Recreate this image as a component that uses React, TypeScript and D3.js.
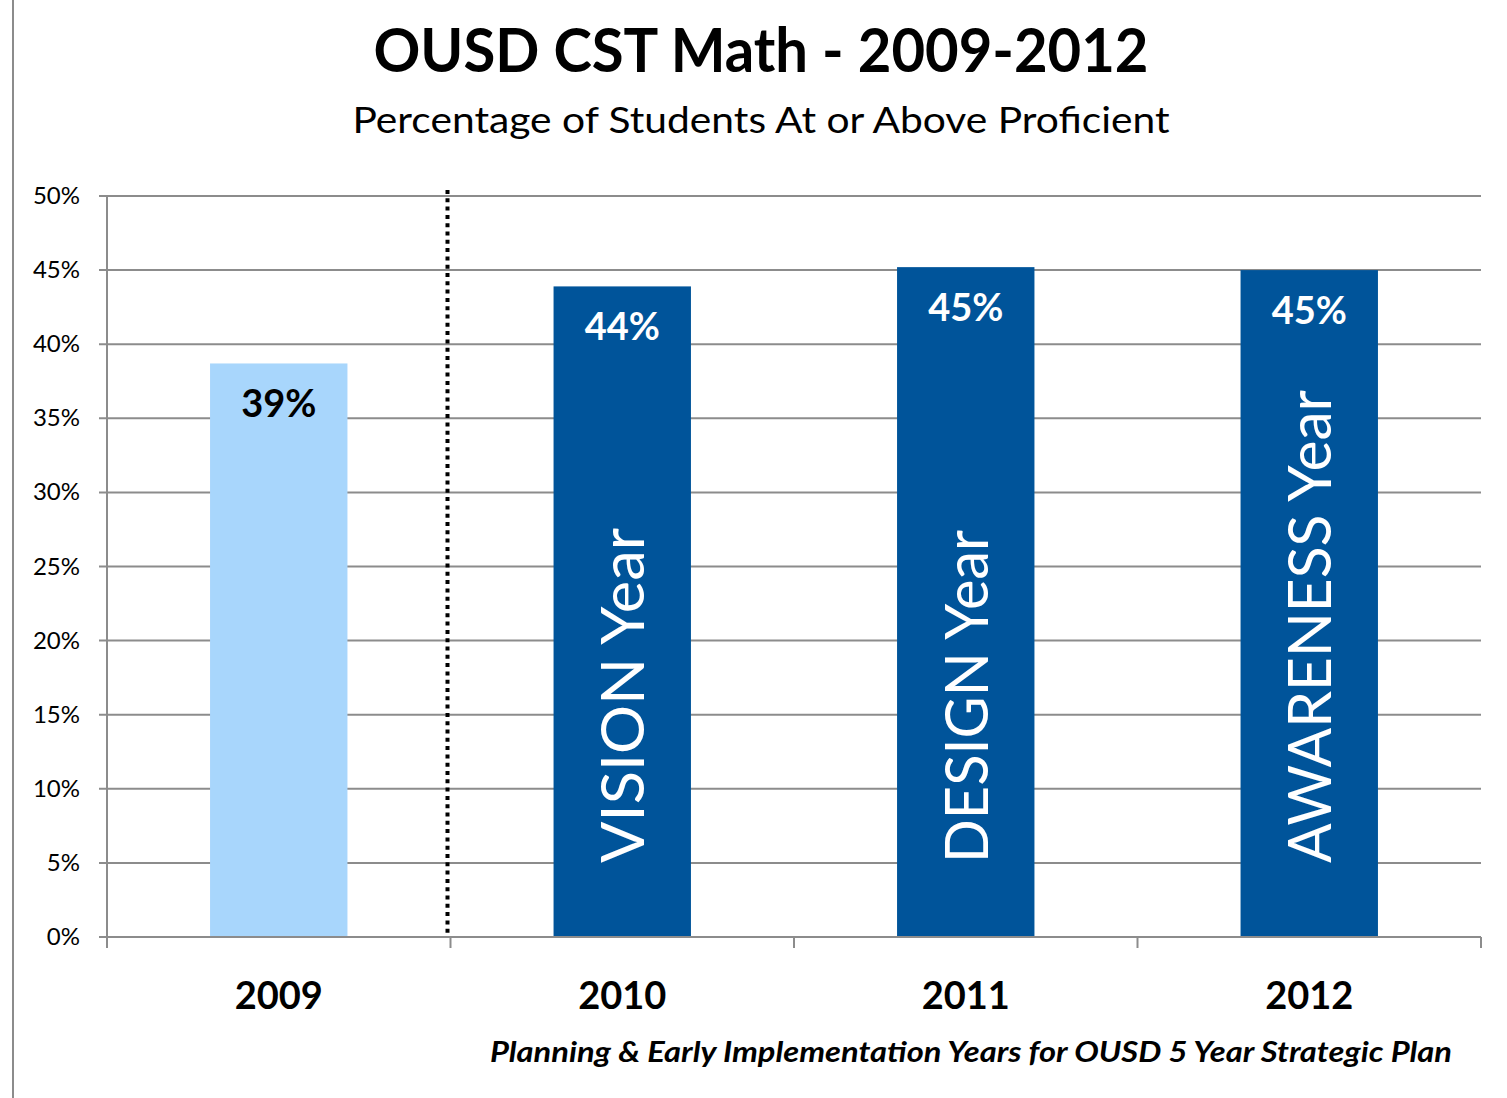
import { useEffect } from 'react';
import * as d3 from 'd3';

const years = ['2009', '2010', '2011', '2012'];
const values = [38.7, 43.9, 45.2, 45.0];
const valueLabels = ['39%', '44%', '45%', '45%'];
const phaseLabels = ['', 'VISION Year', 'DESIGN Year', 'AWARENESS Year'];
const yTicks = [0, 5, 10, 15, 20, 25, 30, 35, 40, 45, 50];

const W = 1507;
const H = 1098;
const FONT = 'Lato, "Open Sans", sans-serif';
const GRID = '#8c8c8c';
const LIGHT = '#a8d6fc';
const DARK = '#00549a';

export default function App() {
  useEffect(() => {
    document.body.style.margin = '0';
  }, []);

  const margin = { top: 196, right: 26, bottom: 161, left: 107 };

  const x = d3
    .scaleBand()
    .domain(years)
    .range([margin.left, W - margin.right])
    .paddingInner(0.6)
    .paddingOuter(0.3);

  // category boundaries for the tick marks
  const xOuter = d3.scaleBand().domain(years).range([margin.left, W - margin.right]).padding(0);

  const y = d3.scaleLinear().domain([0, 50]).range([H - margin.bottom, margin.top]);

  const bottom = y(0);
  const boundaries = years.map((yr) => (xOuter(yr) || 0) + xOuter.bandwidth());
  const dividerX = (xOuter('2010') || 0) - 3;

  return (
    <svg width={W} height={H} style={{ display: 'block', background: '#fff' }} fontFamily={FONT}>
      {/* frame on the left */}
      <line x1={13} x2={13} y1={0} y2={H} stroke={GRID} strokeWidth={2} />

      <text x={761} y={72} textAnchor="middle" fontSize={62} fontWeight={700} textLength={775} lengthAdjust="spacingAndGlyphs">
        OUSD CST Math - 2009-2012
      </text>
      <text x={761} y={133} textAnchor="middle" fontSize={37} textLength={817} lengthAdjust="spacingAndGlyphs">
        Percentage of Students At or Above Proficient
      </text>

      {/* grid lines and y axis */}
      {yTicks.map((t) => (
        <g key={t}>
          <line x1={margin.left - 8} x2={W - margin.right} y1={y(t)} y2={y(t)} stroke={GRID} strokeWidth={2} />
          <text x={80} y={y(t) + 8} textAnchor="end" fontSize={24}>
            {t}%
          </text>
        </g>
      ))}
      <line x1={margin.left} x2={margin.left} y1={y(50)} y2={bottom + 11} stroke={GRID} strokeWidth={2} />
      {boundaries.map((b) => (
        <line key={b} x1={b} x2={b} y1={bottom} y2={bottom + 11} stroke={GRID} strokeWidth={2} />
      ))}

      {/* divider between baseline and plan years */}
      <line x1={dividerX} x2={dividerX} y1={y(50) - 6} y2={bottom} stroke="#000" strokeWidth={4} strokeDasharray="4,4.3" />

      {/* bars */}
      {years.map((yr, i) => {
        const bx = x(yr) || 0;
        const cx = bx + x.bandwidth() / 2;
        return (
          <g key={yr}>
            <rect x={bx} y={y(values[i])} width={x.bandwidth()} height={bottom - 1 - y(values[i])} fill={i === 0 ? LIGHT : DARK} />
            <text x={cx} y={y(values[i]) + 54} textAnchor="middle" fontSize={38} fontWeight={700} fill={i === 0 ? '#000' : '#fff'}>
              {valueLabels[i]}
            </text>
            {phaseLabels[i] && (
              <text
                transform={`translate(${cx + 22},863) rotate(-90)`}
                fontSize={60}
                fill="#fff"
                textLength={phaseLabels[i] === 'AWARENESS Year' ? 473 : phaseLabels[i] === 'VISION Year' ? 335 : 333}
                lengthAdjust="spacingAndGlyphs"
              >
                {phaseLabels[i]}
              </text>
            )}
            <text x={cx} y={1009} textAnchor="middle" fontSize={38} fontWeight={700}>
              {yr}
            </text>
          </g>
        );
      })}

      <text x={1452} y={1062} textAnchor="end" fontSize={29} fontWeight={700} fontStyle="italic" textLength={962} lengthAdjust="spacingAndGlyphs">
        Planning &amp; Early Implementation Years for OUSD 5 Year Strategic Plan
      </text>
    </svg>
  );
}
